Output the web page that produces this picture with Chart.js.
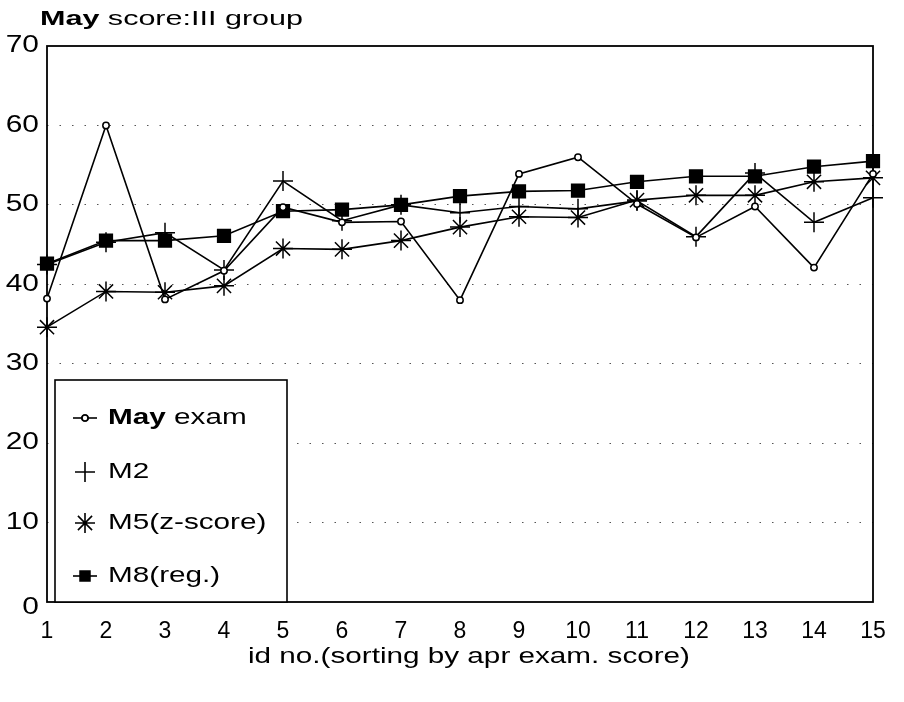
<!DOCTYPE html>
<html>
<head>
<meta charset="utf-8">
<script src="https://cdn.jsdelivr.net/npm/chart.js@4"></script>
<style>
html,body{margin:0;padding:0;background:#fff;}
#wrap{width:904px;height:702px;}
</style>
</head>
<body>
<div id="wrap"><canvas id="c" width="904" height="702"></canvas></div>
<script>
const categories = ['1','2','3','4','5','6','7','8','9','10','11','12','13','14','15'];
const mayExam = [38.2, 60.0, 38.1, 41.7, 49.7, 47.8, 47.9, 38.0, 53.9, 56.0, 50.1, 45.9, 49.8, 42.1, 53.9];
const m2      = [42.5, 45.3, 46.5, 41.8, 53.0, 48.0, 50.0, 49.0, 49.8, 49.5, 50.5, 46.0, 54.0, 47.8, 50.9];
const m5      = [34.6, 39.1, 39.0, 39.8, 44.5, 44.4, 45.5, 47.2, 48.5, 48.4, 50.6, 51.2, 51.2, 52.9, 53.4];
const m8      = [42.6, 45.5, 45.5, 46.1, 49.2, 49.4, 50.0, 51.1, 51.7, 51.8, 52.9, 53.6, 53.6, 54.8, 55.5];
const seriesLabels = ['May exam', 'M2', 'M5(z-score)', 'M8(reg.)'];
const yTicks = [0, 10, 20, 30, 40, 50, 60, 70];
const titleBold = 'May';
const titleRest = ' score:III group';
const xTitle = 'id no.(sorting by apr exam. score)';

const FONT = '"Liberation Sans", Arial, Helvetica, sans-serif';

const styles = [
  {pointStyle:'circle', pointRadius:3.2, bg:'#fff', bw:1.5},
  {pointStyle:'cross',  pointRadius:10,  bg:'#000', bw:1.5},
  {pointStyle:'star',   pointRadius:10,  bg:'#000', bw:1.5},
  {pointStyle:'rect',   pointRadius:9,   bg:'#000', bw:1.5}
];
const seriesData = [mayExam, m2, m5, m8];

const datasets = seriesData.map((d, i) => ({
  label: seriesLabels[i],
  data: d,
  borderColor: '#000',
  borderWidth: 1.6,
  backgroundColor: styles[i].bg,
  pointStyle: styles[i].pointStyle,
  pointRadius: styles[i].pointRadius,
  pointHoverRadius: styles[i].pointRadius,
  pointBorderColor: '#000',
  pointBackgroundColor: styles[i].bg,
  pointBorderWidth: styles[i].bw,
  tension: 0,
  fill: false
}));

// draw text horizontally stretched by factor sx, starting at x (left aligned)
function stretchText(ctx, parts, x, y, sx) {
  ctx.save();
  ctx.translate(x, y);
  ctx.scale(sx, 1);
  let cx = 0;
  parts.forEach(p => {
    ctx.font = p.font;
    ctx.fillText(p.text, cx, 0);
    cx += ctx.measureText(p.text).width;
  });
  ctx.restore();
}
function partsWidth(ctx, parts) {
  let w = 0;
  parts.forEach(p => { ctx.font = p.font; w += ctx.measureText(p.text).width; });
  return w;
}

const framePlugin = {
  id: 'frame',
  beforeDatasetsDraw(chart) {
    const ctx = chart.ctx;
    const a = chart.chartArea;
    ctx.save();
    ctx.strokeStyle = '#000';
    ctx.lineWidth = 1.8;
    ctx.strokeRect(a.left, a.top, a.right - a.left, a.bottom - a.top);
    ctx.restore();
  },
  afterDatasetsDraw(chart) {
    const ctx = chart.ctx;
    const a = chart.chartArea;
    ctx.save();
    ctx.fillStyle = '#000';
    ctx.textBaseline = 'middle';

    // y tick labels (stretched)
    const ys = chart.scales.y;
    ys.ticks.forEach(t => {
      const py = ys.getPixelForValue(t.value);
      const parts = [{ text: String(t.value), font: '23px ' + FONT }];
      const sx = 1.3;
      const w = partsWidth(ctx, parts) * sx;
      stretchText(ctx, parts, 39 - w, py + (t.value === 0 ? 6 : 0), sx);
    });

    // legend box
    const lx = 55, ly = 380, lw = 232, lh = a.bottom - 380;
    ctx.fillStyle = '#fff';
    ctx.fillRect(lx, ly, lw, lh);
    ctx.strokeStyle = '#000';
    ctx.lineWidth = 1.6;
    ctx.strokeRect(lx, ly, lw, lh);
    const rows = [418, 472, 523, 576];
    seriesLabels.forEach((lab, i) => {
      const y = rows[i];
      const x0 = 70, x1 = 100, xc = (x0 + x1) / 2;
      ctx.strokeStyle = '#000';
      ctx.lineWidth = 1.6;
      if (i !== 1 && i !== 2) { ctx.beginPath(); ctx.moveTo(x0 + 3, y); ctx.lineTo(x1 - 3, y); ctx.stroke(); }
      ctx.fillStyle = '#000';
      Chart.helpers.drawPoint(ctx, {
        pointStyle: styles[i].pointStyle,
        radius: i === 0 ? 3 : (i === 3 ? 7 : 10),
        borderWidth: styles[i].bw
      }, xc, y);
      if (styles[i].pointStyle === 'circle') {
        ctx.beginPath();
        ctx.fillStyle = '#fff';
        ctx.arc(xc, y, 3, 0, Math.PI * 2); ctx.fill(); ctx.stroke();
      } else if (styles[i].pointStyle === 'rect') {
        ctx.fillStyle = '#000'; ctx.fillRect(xc - 5, y - 5, 10, 10);
      }
      ctx.fillStyle = '#000';
      let parts;
      if (lab.startsWith('May')) {
        parts = [{ text: 'May', font: 'bold 22px ' + FONT }, { text: lab.slice(3), font: '22px ' + FONT }];
      } else {
        parts = [{ text: lab, font: '22px ' + FONT }];
      }
      stretchText(ctx, parts, 108, y, 1.35);
    });

    // title
    ctx.textBaseline = 'alphabetic';
    const tParts = [{ text: titleBold, font: 'bold 20px ' + FONT }, { text: titleRest, font: '20px ' + FONT }];
    const tw = partsWidth(ctx, tParts);
    stretchText(ctx, tParts, 40, 25, 263 / tw);

    // x axis title
    ctx.textBaseline = 'middle';
    const xParts = [{ text: xTitle, font: '22px ' + FONT }];
    const xw = partsWidth(ctx, xParts);
    const sxx = 442 / xw;
    stretchText(ctx, xParts, (a.left + a.right) / 2 + 9 - 221, 657, sxx);
    ctx.restore();
  }
};

new Chart(document.getElementById('c'), {
  type: 'line',
  data: { labels: categories, datasets },
  options: {
    responsive: false,
    animation: false,
    events: [],
    layout: { padding: { left: 0, right: 31, top: 46, bottom: 0 } },
    plugins: { legend: { display: false }, tooltip: { enabled: false }, title: { display: false } },
    scales: {
      x: {
        offset: false,
        grid: { display: false, drawTicks: false },
        border: { display: false },
        ticks: { color: '#000', font: { family: FONT, size: 23 }, padding: 16, maxRotation: 0, autoSkip: false },
        afterFit(s) { s.height = 100; }
      },
      y: {
        min: 0, max: 70,
        afterBuildTicks(s) { s.ticks = yTicks.map(v => ({ value: v })); },
        grid: {
          drawTicks: false,
          color: c => (c.tick && (c.tick.value === 0 || c.tick.value === 70)) ? 'rgba(0,0,0,0)' : '#555',
          lineWidth: 1.1
        },
        border: { display: false, dash: [1.5, 11] },
        ticks: { display: false },
        afterFit(s) { s.width = 47; }
      }
    }
  },
  plugins: [framePlugin]
});
</script>
</body>
</html>
